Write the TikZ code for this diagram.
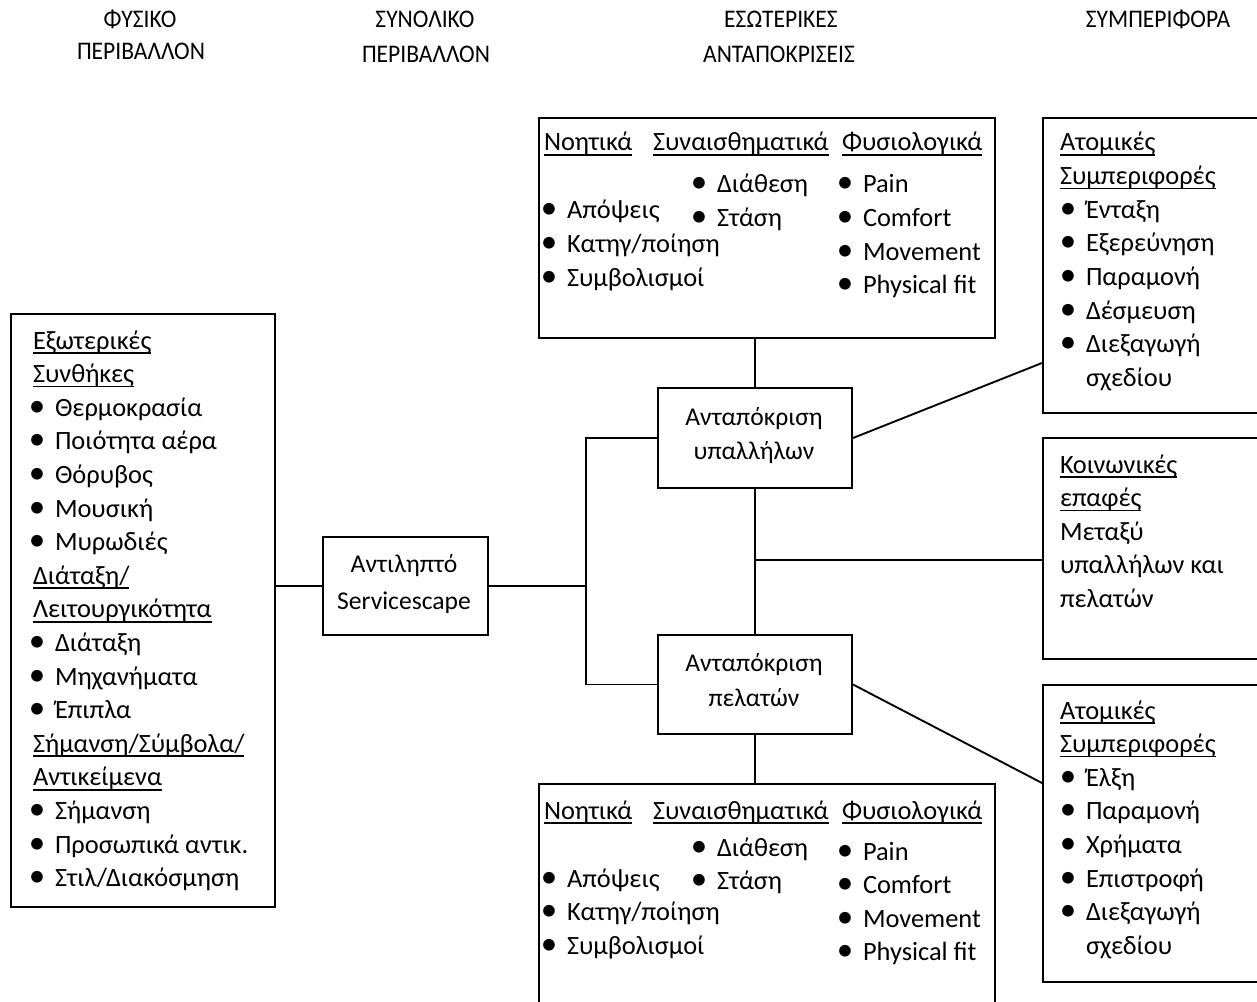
\documentclass[tikz,border=0pt]{standalone}
\usepackage{fontspec}
\setmainfont{Carlito}
\usepackage{graphicx}
\newcommand\ul[1]{\setbox0\hbox{#1}\rlap{\rule[-3.6pt]{\wd0}{1.3pt}}\box0}
\newcommand\hd[2][16.5pt]{\kern-#1\ul{#2}}
\newcommand\bi{\llap{\makebox[0pt]{\scalebox{1.25}{\textbullet}}\hspace{13.5pt}}}
\newcommand\hdr[1]{\scalebox{0.93}[1]{#1}}
\tikzset{
  txt/.style={inner sep=0pt, outer sep=0pt, anchor=base west, font=\fontsize{19.8pt}{25pt}\selectfont},
  ctxt/.style={inner sep=0pt, outer sep=0pt, anchor=base, font=\fontsize{19.2pt}{25pt}\selectfont},
  htxt/.style={inner sep=0pt, outer sep=0pt, anchor=base, font=\fontsize{19pt}{25pt}\selectfont},
  box/.style={draw, line width=1.5pt, inner sep=0pt, anchor=north west},
  conn/.style={line width=1.4pt},
}
\newcommand\txtcol[4]{%
  \foreach \t [count=\i] in {#4} \node[txt] (#1\i) at (#2, {#3+33.6*(\i-1)}) {\t};}
\newcommand\boxnode[5]{%
  \node[box, minimum width={(#4-#2)*0.75pt}, minimum height={(#5-#3)*0.75pt}] (#1) at (#2,#3) {};}
\begin{document}
\begin{tikzpicture}[x=0.75pt,y=-0.75pt]
\useasboundingbox (0,0) rectangle (1257,1002);
\clip (0,0) rectangle (1257,1002);
\fill[white] (0,0) rectangle (1257,1002);

% headers
\node[htxt] (h1a) at (140,28) {\hdr{ΦΥΣΙΚΟ}};
\node[htxt] (h1b) at (141,60) {\hdr{ΠΕΡΙΒΑΛΛΟΝ}};
\node[htxt] (h2a) at (425,28) {\hdr{ΣΥΝΟΛΙΚΟ}};
\node[htxt] (h2b) at (426,63) {\hdr{ΠΕΡΙΒΑΛΛΟΝ}};
\node[htxt] (h3a) at (781,28) {\hdr{ΕΣΩΤΕΡΙΚΕΣ}};
\node[htxt] (h3b) at (779,63) {\hdr{ΑΝΤΑΠΟΚΡΙΣΕΙΣ}};
\node[htxt] (h4a) at (1158,28) {\hdr{ΣΥΜΠΕΡΙΦΟΡΑ}};

% boxes
\boxnode{lbox}{10}{313}{274}{906}
\boxnode{svc}{322}{536}{487}{634}
\boxnode{emp}{657}{387}{851}{487}
\boxnode{cust}{657}{634}{851}{733}
\boxnode{ibox1}{538}{117}{994}{337}
\boxnode{ibox2}{538}{783}{994}{1012}
\boxnode{rbox1}{1042}{117}{1265}{412}
\boxnode{soc}{1042}{437}{1265}{658}
\boxnode{rbox2}{1042}{684}{1265}{981}

% box texts
\node[ctxt] (svc1) at (404,572) {Αντιληπτό};
\node[ctxt] (svc2) at (404,609) {Servicescape};
\node[ctxt] (emp1) at (754,425) {Ανταπόκριση};
\node[ctxt] (emp2) at (754,459) {υπαλλήλων};
\node[ctxt] (cust1) at (754,671) {Ανταπόκριση};
\node[ctxt] (cust2) at (754,706) {πελατών};

\txtcol{lb}{55}{349}{\hd{Εξωτερικές}, \hd{Συνθήκες}, \bi Θερμοκρασία, \bi Ποιότητα αέρα, \bi Θόρυβος, \bi Μουσική, \bi Μυρωδιές, \hd{Διάταξη/}, \hd{Λειτουργικότητα}, \bi Διάταξη, \bi Μηχανήματα, \bi Έπιπλα, \hd{Σήμανση/Σύμβολα/}, \hd{Αντικείμενα}, \bi Σήμανση, \bi Προσωπικά αντικ., \bi Στιλ/Διακόσμηση}

\node[txt] (t1h1) at (544,151) {\ul{Νοητικά}};
\node[txt] (t1h2) at (653,151) {\ul{Συναισθηματικά}};
\node[txt] (t1h3) at (842,151) {\ul{Φυσιολογικά}};
\txtcol{ta}{567}{219}{\bi Απόψεις, \bi Κατηγ/ποίηση, \bi Συμβολισμοί}
\txtcol{tb}{717}{193}{\bi Διάθεση, \bi Στάση}
\txtcol{tc}{863}{193}{\bi Pain, \bi Comfort, \bi Movement, \bi Physical fit}

\node[txt] (t2h1) at (544,819) {\ul{Νοητικά}};
\node[txt] (t2h2) at (653,819) {\ul{Συναισθηματικά}};
\node[txt] (t2h3) at (842,819) {\ul{Φυσιολογικά}};
\txtcol{ba}{567}{887}{\bi Απόψεις, \bi Κατηγ/ποίηση, \bi Συμβολισμοί}
\txtcol{bb}{717}{856}{\bi Διάθεση, \bi Στάση}
\txtcol{bc}{863}{860}{\bi Pain, \bi Comfort, \bi Movement, \bi Physical fit}

\txtcol{ra}{1086}{151}{\hd[19.5pt]{Ατομικές}, \hd[19.5pt]{Συμπεριφορές}, \bi Ένταξη, \bi Εξερεύνηση, \bi Παραμονή, \bi Δέσμευση, \bi Διεξαγωγή, σχεδίου}
\txtcol{sa}{1060}{473}{\ul{Κοινωνικές}, \ul{επαφές}, Μεταξύ, υπαλλήλων και, πελατών}
\txtcol{rb}{1086}{719}{\hd[19.5pt]{Ατομικές}, \hd[19.5pt]{Συμπεριφορές}, \bi Έλξη, \bi Παραμονή, \bi Χρήματα, \bi Επιστροφή, \bi Διεξαγωγή, σχεδίου}

% connectors
\coordinate (j) at (586,585);
\coordinate (s) at (754,560);
\coordinate (a1) at (1042,363);
\coordinate (a2) at (1042,783);
\draw[conn] (svc.west) -- (svc.west -| lbox.east);
\draw[conn] (svc.east) -- (svc.east -| j);
\draw[conn] (emp.west) -- (emp.west -| j) -- (cust.west -| j) -- (cust.west);
\draw[conn] (emp.north) -- (emp.north |- ibox1.south);
\draw[conn] (emp.south) -- (cust.north);
\draw[conn] (cust.south) -- (cust.south |- ibox2.north);
\draw[conn] (s) -- (s -| soc.west);
\draw[conn] (emp.east) -- (a1);
\draw[conn] (cust.east) -- (a2);
\end{tikzpicture}
\end{document}
